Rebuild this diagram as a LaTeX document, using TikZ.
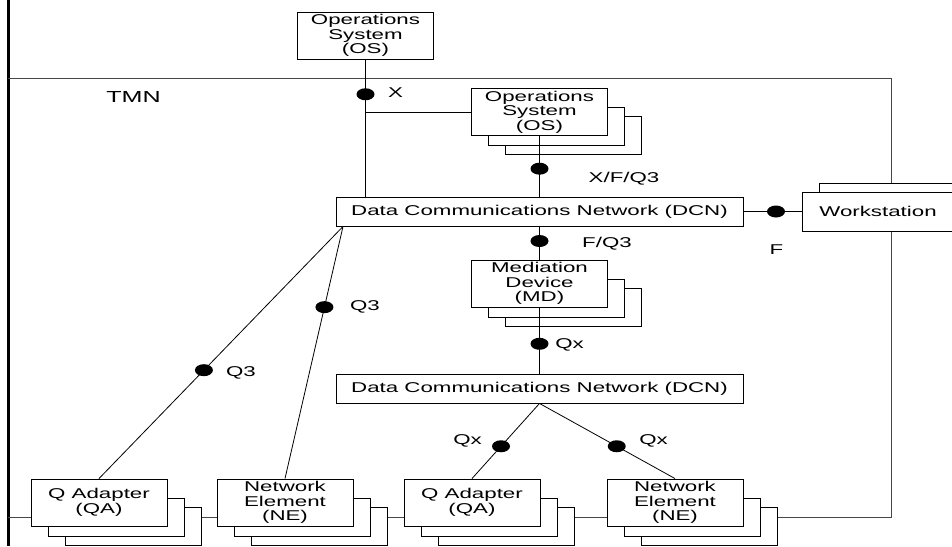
\documentclass[tikz,border=0pt]{standalone}
\usepackage{fontspec}
\setmainfont{Liberation Sans}[FakeStretch=1.57]
\usetikzlibrary{shapes.geometric}

\tikzset{
  txt/.style={font=\fontsize{14.2}{14.6}\selectfont},
  box/.style={draw, fill=white, line width=0.9pt, inner sep=0pt, align=center, txt},
  unit/.style={box, minimum width=136pt, minimum height=47pt},
  net/.style={box, minimum width=407pt, minimum height=29pt},
  shadowbox/.style={draw, fill=white, line width=0.9pt},
  link/.style={line width=0.8pt},
  frameline/.style={line width=0.9pt, draw=black!72},
  port/.style={ellipse, fill=black, inner sep=0pt, minimum width=18pt, minimum height=12pt},
  lbl/.style={txt, inner sep=0pt},
}

% a unit drawn with two copies stacked behind it
\newcommand\tmnstack[4]{%
  \draw[shadowbox] (#2-68+34, #3-23.5+28) rectangle (#2+68+34, #3+23.5+19);
  \draw[shadowbox] (#2-68+17, #3-23.5+19) rectangle (#2+68+17, #3+23.5+10);
  \node[unit] (#1) at (#2,#3) {#4};
}

\begin{document}
\begin{tikzpicture}[x=1pt, y=-1pt]
  \useasboundingbox (0,0) rectangle (952,546);
  \clip (0,0) rectangle (952,546);

  % TMN boundary
  \draw[line width=3pt] (8,0) -- (8,546);
  \draw[frameline] (8,78) -- (891,78) -- (891,517) -- (8,517);
  \node[lbl, font=\fontsize{16}{17}\selectfont] (tmn) at (133.5,97) {TMN};

  % outside operations system
  \node[unit] (os0) at (365.5,35.5) {Operations\\System\\(OS)};

  % units inside the TMN
  \tmnstack{os1}{539.5}{112}{Operations\\System\\(OS)}
  \node[net] (dcn1) at (539.5,211.5) {Data Communications Network (DCN)};
  \tmnstack{md}{539.5}{283.5}{Mediation\\Device\\(MD)}
  \node[net] (dcn2) at (539.5,388.5) {Data Communications Network (DCN)};

  \tmnstack{qa1}{99}{502.5}{Q Adapter\\(QA)}
  \tmnstack{ne1}{285}{502.5}{Network\\Element\\(NE)}
  \tmnstack{qa2}{472}{502.5}{Q Adapter\\(QA)}
  \tmnstack{ne2}{675}{502.5}{Network\\Element\\(NE)}

  % workstation, stacked up and to the right
  \draw[shadowbox] (819,183) rectangle (971,222);
  \node[box, minimum width=152pt, minimum height=39pt] (ws) at (878,211.5) {Workstation};

  % interfaces
  \draw[link] (os0.south) -- node[port, pos=0.254] (px) {} (os0.south |- dcn1.north);
  \draw[link] (os1.west -| os0.south) -- (os1.west);
  \draw[link] (os1.south) -- node[port, pos=0.54] (pxfq) {} (dcn1.north);
  \draw[link] (dcn1.south) -- node[port, pos=0.44] (pfq) {} (md.north);
  \draw[link] (md.south) -- node[port, pos=0.55] (pqx) {} (dcn2.north);
  \draw[link] (dcn1.east) -- node[port, pos=0.56] (pf) {} (ws.west);

  \coordinate (fan) at (343,226.5);
  \draw[link] (fan) -- node[port, pos=0.57] (pq3a) {} (qa1.north);
  \draw[link] (fan) -- node[port, pos=0.32] (pq3b) {} (ne1.north);
  \draw[link] (dcn2.south) -- node[port, pos=0.57] (pqxa) {} (qa2.north);
  \draw[link] (dcn2.south) -- node[port, pos=0.57] (pqxb) {} (ne2.north);

  % reference point labels
  \node[lbl] (lx)    at (395.5,92.5) {X};
  \node[lbl] (lxfq)  at (624,178.5)  {X/F/Q3};
  \node[lbl] (lfq)   at (607,244)    {F/Q3};
  \node[lbl] (lf)    at (776.5,249.5){F};
  \node[lbl] (lqx)   at (569.5,344.5){Qx};
  \node[lbl] (lq3b)  at (365,307)    {Q3};
  \node[lbl] (lq3a)  at (241,373)    {Q3};
  \node[lbl] (lqxa)  at (467.5,441)  {Qx};
  \node[lbl] (lqxb)  at (653.5,441)  {Qx};
\end{tikzpicture}
\end{document}
